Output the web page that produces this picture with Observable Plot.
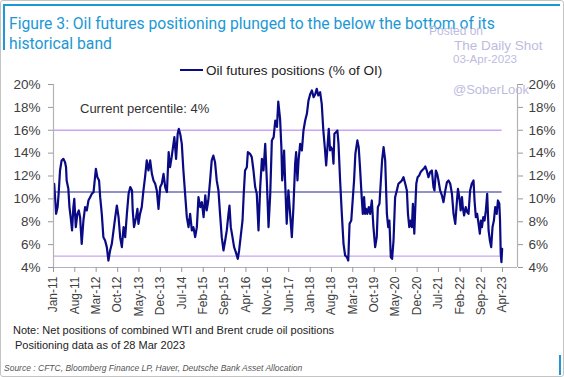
<!DOCTYPE html>
<html>
<head>
<meta charset="utf-8">
<script src="https://cdn.jsdelivr.net/npm/d3@7"></script>
<script src="https://cdn.jsdelivr.net/npm/@observablehq/plot@0.6"></script>
<style>
  html, body { margin: 0; padding: 0; background: #fff; }
  #wrap { position: relative; width: 564px; height: 377px; overflow: hidden; background: #fff; font-family: "Liberation Sans", Arial, sans-serif; }
  #wrap svg { position: absolute; left: 0; top: 0; }
  .abs { position: absolute; white-space: nowrap; line-height: 1; }
  #title { left: 9px; top: 14px; color: #1b98d5; font-family: Roboto, "Liberation Sans", sans-serif; font-size: 15.7px; line-height: 20px; }
  .wm { color: #bdbce0; }
  #legend { left: 180px; top: 64px; font-size: 13.5px; color: #222; }
  #legend span.sw { display: inline-block; width: 23px; height: 0; border-top: 2.2px solid #0a0a85; vertical-align: middle; margin-right: 3px; position: relative; top: -1px; }
  #pct { left: 80px; top: 102px; font-size: 13px; color: #333; }
  #note1 { left: 13px; top: 325px; font-size: 11px; color: #222; }
  #note2 { left: 15px; top: 340px; font-size: 11px; color: #222; }
  #source { left: 4px; top: 364px; font-size: 8.5px; color: #555; font-style: italic; }
  .bline { position: absolute; background: #1b98d5; }
  #border { position: absolute; left: 0; top: 0; width: 562px; height: 375px; border: 1px solid #c4c4c4; border-radius: 3px; }
</style>
</head>
<body>
<div id="wrap">
  <div id="chart"></div>
  <div id="border"></div>
  <div class="bline" style="left:4px; top:4px; width:556px; height:2px;"></div>
  <div class="bline" style="left:3px; top:4px; width:2px; height:46px;"></div>
  <div class="bline" style="left:559px; top:355px; width:2px; height:20px;"></div>
  <div id="title" class="abs">Figure 3: Oil futures positioning plunged to the below the bottom of its<br>historical band</div>
  <div class="abs wm" style="left:429px; top:25px; font-size:12px;">Posted on</div>
  <div class="abs wm" style="left:454px; top:39px; font-size:13.5px;">The Daily Shot</div>
  <div class="abs wm" style="left:453px; top:54px; font-size:11.5px;">03-Apr-2023</div>
  <div class="abs wm" style="left:453px; top:83px; font-size:13px;">@SoberLook</div>
  <div id="legend" class="abs"><span class="sw"></span>Oil futures positions (% of OI)</div>
  <div id="pct" class="abs">Current percentile: 4%</div>
  <div id="note1" class="abs">Note: Net positions of combined WTI and Brent crude oil positions</div>
  <div id="note2" class="abs">Positioning data as of 28 Mar 2023</div>
  <div id="source" class="abs">Source : CFTC, Bloomberg Finance LP, Haver, Deutsche Bank Asset Allocation</div>
</div>
<script>
// ---- Data ----
const dates = [
  "2011-01-08","2011-01-27","2011-02-11","2011-02-21","2011-03-07","2011-03-23","2011-04-09","2011-04-26","2011-05-06","2011-05-12","2011-05-29","2011-06-09","2011-06-21","2011-07-05","2011-07-18","2011-07-27","2011-08-11","2011-08-27","2011-09-10","2011-09-23","2011-10-09","2011-10-26","2011-11-12","2011-11-29","2011-12-15",
  "2012-01-01","2012-01-18","2012-02-04","2012-02-27","2012-03-13","2012-03-30","2012-04-10","2012-04-26","2012-05-12","2012-05-29","2012-06-15","2012-07-01","2012-07-18","2012-08-04","2012-08-21","2012-09-07","2012-09-23","2012-10-10","2012-10-26","2012-11-12","2012-11-29","2012-12-15",
  "2013-01-01","2013-01-18","2013-02-04","2013-02-21","2013-02-28","2013-03-13","2013-04-03","2013-04-16","2013-04-26","2013-05-12","2013-05-29","2013-06-15","2013-07-01","2013-07-18","2013-08-04","2013-08-21","2013-09-07","2013-09-23","2013-10-10","2013-10-26","2013-11-12","2013-11-29","2013-12-15",
  "2014-01-01","2014-01-18","2014-02-04","2014-02-21","2014-03-07","2014-03-23","2014-04-19","2014-05-06","2014-05-22","2014-06-02","2014-06-18","2014-07-02","2014-07-18","2014-08-04","2014-08-21","2014-09-07","2014-09-23","2014-10-10","2014-10-26","2014-11-12","2014-11-29","2014-12-15",
  "2015-01-02","2015-01-18","2015-02-04","2015-02-21","2015-03-07","2015-03-23","2015-04-10","2015-04-26","2015-05-12","2015-05-29","2015-06-15","2015-07-02","2015-07-18","2015-08-04","2015-08-21","2015-09-07","2015-09-23","2015-10-10","2015-10-20","2015-11-02","2015-11-19","2015-12-05","2015-12-22",
  "2016-01-11","2016-01-24","2016-02-08","2016-02-27","2016-03-10","2016-03-23","2016-04-10","2016-04-20","2016-05-12","2016-05-29","2016-06-15","2016-07-02","2016-07-18","2016-08-04","2016-08-21","2016-09-07","2016-09-23","2016-10-10","2016-10-26","2016-11-12","2016-11-29","2016-12-15",
  "2017-01-02","2017-01-18","2017-02-04","2017-02-17","2017-03-07","2017-03-20","2017-03-28","2017-04-10","2017-04-16","2017-04-26","2017-05-12","2017-05-29","2017-06-15","2017-07-02","2017-07-18","2017-08-04","2017-08-14","2017-08-27","2017-09-07","2017-09-23","2017-10-10","2017-10-26","2017-11-12","2017-11-29","2017-12-15",
  "2018-01-02","2018-01-18","2018-02-04","2018-02-21","2018-03-07","2018-03-23","2018-04-10","2018-04-26","2018-05-12","2018-05-29","2018-06-09","2018-06-22","2018-07-05","2018-07-18","2018-07-28","2018-08-11","2018-08-21","2018-08-30","2018-09-14","2018-09-29","2018-10-10","2018-10-26","2018-11-12","2018-11-29","2018-12-15",
  "2019-01-02","2019-01-15","2019-01-28","2019-02-14","2019-02-28","2019-03-14","2019-03-27","2019-04-16","2019-04-29","2019-05-12","2019-05-29","2019-06-09","2019-06-22","2019-07-02","2019-07-12","2019-07-24","2019-08-08","2019-08-21","2019-09-07","2019-09-23","2019-10-10","2019-10-26","2019-11-06","2019-11-22","2019-12-06","2019-12-18",
  "2020-01-02","2020-01-18","2020-02-04","2020-02-17","2020-02-29","2020-03-14","2020-03-27","2020-04-10","2020-04-26","2020-05-13","2020-05-29","2020-06-16","2020-07-02","2020-07-18","2020-08-05","2020-08-21","2020-09-01","2020-09-14","2020-09-27","2020-10-10","2020-10-20","2020-11-03","2020-11-13","2020-11-23","2020-12-06","2020-12-22",
  "2021-01-05","2021-01-18","2021-02-05","2021-02-21","2021-03-07","2021-03-24","2021-04-10","2021-04-27","2021-05-13","2021-05-23","2021-06-06","2021-06-19","2021-07-02","2021-07-18","2021-08-05","2021-08-21","2021-09-08","2021-09-24","2021-10-10","2021-10-27","2021-11-13","2021-11-29","2021-12-16",
  "2022-01-02","2022-01-12","2022-01-25","2022-02-08","2022-02-21","2022-03-01","2022-03-14","2022-03-30","2022-04-14","2022-04-27","2022-05-13","2022-05-29","2022-06-16","2022-06-26","2022-07-09","2022-07-22","2022-08-05","2022-08-18","2022-08-28","2022-09-08","2022-09-21","2022-10-04","2022-10-17","2022-10-30","2022-11-13","2022-11-26","2022-12-09","2022-12-22",
  "2023-01-05","2023-01-18","2023-02-02","2023-02-14","2023-02-28","2023-03-07","2023-03-14","2023-03-21","2023-03-28"
];
const positions = [
  11.32,8.69,9.28,10.44,12.48,13.36,13.50,13.21,12.77,11.61,10.88,9.28,8.40,7.24,9.28,10.00,7.53,8.69,8.99,8.40,6.07,8.11,9.28,8.99,9.86,
  10.15,10.44,10.59,12.63,11.90,11.61,10.15,8.69,6.65,6.36,5.78,4.61,5.49,6.07,7.24,8.40,9.42,8.40,6.65,5.78,7.53,6.65,
  8.69,10.44,11.03,10.74,8.99,7.53,8.40,9.13,7.82,8.69,9.28,10.74,11.90,13.36,12.48,13.36,12.19,11.61,11.32,10.74,9.13,11.03,11.32,
  12.19,11.00,10.60,14.08,12.77,13.65,15.40,13.50,15.69,16.12,15.60,14.81,12.48,10.44,8.40,7.53,8.69,7.24,7.53,6.65,7.53,10.15,
  9.28,9.71,8.40,10.30,8.99,9.86,11.61,13.36,13.79,13.21,11.61,10.74,8.69,6.65,5.49,6.36,7.24,8.69,9.42,7.53,6.65,5.78,5.34,
  4.76,5.49,6.65,8.11,10.44,12.48,12.77,14.08,13.94,13.65,12.48,11.03,10.44,7.24,11.03,13.50,12.48,14.81,11.61,7.53,10.44,15.11,
  15.40,16.85,16.30,18.50,17.00,14.50,11.61,13.07,14.23,11.61,7.82,10.74,8.69,6.65,9.28,13.07,14.08,11.61,13.36,14.81,14.23,15.98,16.85,17.44,18.60,
  19.18,19.48,18.89,19.18,19.62,19.04,19.33,18.31,15.98,14.23,12.92,14.52,16.12,14.23,14.52,14.23,13.07,15.69,15.83,15.98,14.81,11.61,8.69,6.07,5.05,
  4.91,4.61,7.82,8.11,9.86,11.61,13.94,15.11,14.52,12.77,10.15,8.69,10.15,8.69,9.13,8.69,9.28,8.69,9.86,7.53,5.78,6.65,9.28,9.57,11.61,13.36,
  14.52,13.36,8.69,7.53,8.11,4.91,4.76,6.36,10.15,10.74,11.32,11.46,11.61,11.90,11.32,10.74,8.69,7.53,8.11,7.53,9.57,6.95,9.28,11.32,11.90,12.05,
  12.34,12.48,12.63,12.83,12.48,11.90,12.34,12.48,11.03,10.74,12.48,12.19,11.61,10.74,10.30,9.71,10.74,11.46,11.61,11.32,10.44,8.69,7.82,
  9.86,10.88,10.15,8.99,10.15,9.28,8.55,9.28,8.84,8.69,10.74,11.32,11.61,9.86,8.40,8.69,7.82,6.95,8.11,7.53,8.40,8.11,8.99,10.44,7.24,6.36,5.78,7.53,
  8.11,9.28,8.69,9.86,9.57,8.11,5.20,4.47,5.63
];
const bandTop = 16;       // top of historical band
const bandMean = 10.6;    // average
const bandBottom = 5;     // bottom of historical band
const yTicks = [4, 6, 8, 10, 12, 14, 16, 18, 20];
const xTickLabels = ["2011-01","2011-08","2012-03","2012-10","2013-05","2013-12","2014-07","2015-02","2015-09","2016-04","2016-11","2017-06","2018-01","2018-08","2019-03","2019-10","2020-05","2020-12","2021-07","2022-02","2022-09","2023-04"];
const axisStart = "2011-01-01";
const axisEnd = "2023-08-28";

// ---- Build ----
const data = dates.map((d, i) => ({date: new Date(d), value: positions[i]}));
const bandStart = new Date(axisStart);
const bandEnd = new Date(dates[dates.length - 1]);
const bands = [
  {y: bandTop, color: "#c9a6f3"},
  {y: bandBottom, color: "#c9a6f3"},
  {y: bandMean, color: "#6e6eb9"}
];
const xTicks = xTickLabels.map(s => new Date(s + "-01"));

const chart = Plot.plot({
  width: 564,
  height: 377,
  marginLeft: 53,
  marginRight: 47,
  marginTop: 84,
  marginBottom: 110,
  style: {fontFamily: "'Liberation Sans', Arial, sans-serif", fontSize: "13px", background: "transparent", color: "#404040"},
  x: {type: "utc", domain: [new Date(axisStart), new Date(axisEnd)]},
  y: {domain: [4, 20]},
  marks: [
    Plot.ruleY(bands, {y: "y", x1: () => bandStart, x2: () => bandEnd, stroke: "color", strokeWidth: 1.3}),
    Plot.lineY(data, {x: "date", y: "value", stroke: "#0a0a85", strokeWidth: 2.2, strokeLinejoin: "round"}),
    Plot.ruleX([new Date(axisStart), new Date(axisEnd)], {stroke: "#b3b3b3", strokeWidth: 1.2}),
    Plot.ruleY([4], {stroke: "#b3b3b3", strokeWidth: 1.2}),
    Plot.axisY(yTicks, {anchor: "left", tickFormat: d => d + "%", tickSize: 5, tickPadding: 8, fontSize: 13.5, stroke: "#999"}),
    Plot.axisY(yTicks, {anchor: "right", tickFormat: d => d + "%", tickSize: 5, tickPadding: 6, fontSize: 13.5, stroke: "#999"}),
    Plot.axisX(xTicks, {tickFormat: d3.utcFormat("%b-%y"), tickRotate: -90, tickSize: 5, tickPadding: 4, fontSize: 12, stroke: "#999"})
  ]
});
document.getElementById("chart").appendChild(chart);
</script>
</body>
</html>
